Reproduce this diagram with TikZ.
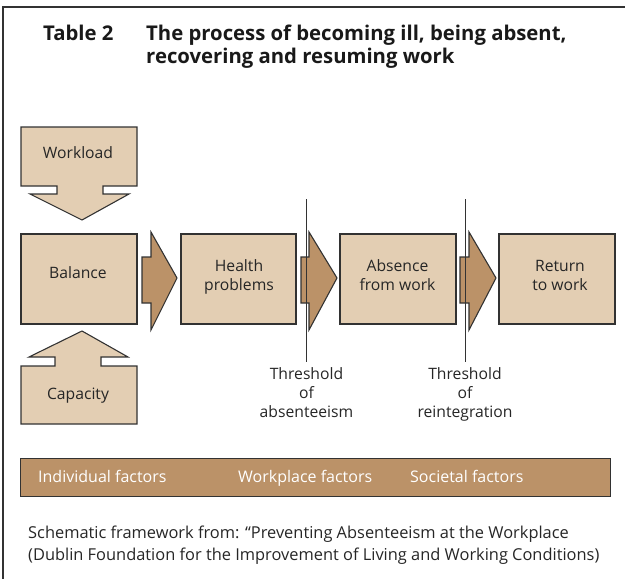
\documentclass[tikz,border=0pt]{standalone}
\usepackage{fontspec}
\setmainfont{Open Sans}
\definecolor{boxfill}{RGB}{227,206,179}
\definecolor{arrowfill}{RGB}{187,146,104}
\definecolor{edge}{RGB}{50,50,50}
\tikzset{
  boxshape/.style={draw=edge, line width=1.1pt, fill=boxfill},
  blockarrow/.style={draw=edge, line width=1.1pt, fill=arrowfill},
  boxtext/.style={font=\fontsize{15.7}{18.5}\selectfont, text=black!85, align=center, anchor=base, inner sep=0pt},
  thrline/.style={draw=black!80, line width=0.9pt},
  factortext/.style={font=\fontsize{16}{18.5}\selectfont, text=white, anchor=base west, inner sep=0pt},
  captext/.style={font=\fontsize{16.4}{22}\selectfont, text=black!85, anchor=base west, inner sep=0pt, align=left},
  titletext/.style={font=\fontsize{20.3}{23}\bfseries\selectfont, text=black!90, anchor=base west, inner sep=0pt, align=left},
}
\begin{document}
\begin{tikzpicture}[x=1pt,y=-1pt]
\useasboundingbox (0,0) rectangle (625,579);
% frame
\draw[draw=edge, line width=1.5pt] (3,579) -- (3,7) -- (625,7);
% title
\node[titletext] (tab) at (43,40) {Table 2};
\node[titletext] (title) at (146,40) {The process of becoming ill, being absent,};
\node[titletext] (title2) at (146,63) {recovering and resuming work};
% workload
\draw[boxshape] (21,127) -- (137,127) -- (137,186) -- (103,186) -- (103,194) -- (129,194) -- (82,220) -- (30,194) -- (57,194) -- (57,186) -- (21,186) -- cycle;
\node[boxtext] (work) at (78,158) {Workload};
% capacity
\draw[boxshape] (21,424) -- (137,424) -- (137,366) -- (101,366) -- (101,357) -- (128,357) -- (82,331) -- (29,357) -- (55,357) -- (55,366) -- (21,366) -- cycle;
\node[boxtext] (cap) at (78,399) {Capacity};
% main boxes
\node[boxshape, minimum width=116pt, minimum height=90pt, inner sep=0pt] (bal) at (79,279) {};
\node[boxshape, minimum width=115pt, minimum height=90pt, inner sep=0pt] (hea) at (238.5,279) {};
\node[boxshape, minimum width=116pt, minimum height=90pt, inner sep=0pt] (abs) at (398,279) {};
\node[boxshape, minimum width=116pt, minimum height=90pt, inner sep=0pt] (ret) at (557,279) {};
\node[boxtext] (baltxt) at (78,278) {Balance};
\node[boxtext] (heatxt) at (239,290) {Health\\problems};
\node[boxtext] (abstxt) at (397.5,290) {Absence\\from work};
\node[boxtext] (rettxt) at (560,290) {Return\\to work};
% block arrows
\draw[blockarrow] (142,257) -- (151,257) -- (151,232) -- (177,278) -- (151,330) -- (151,303) -- (142,303) -- cycle;
\draw[blockarrow] (301,257) -- (309,257) -- (309,232) -- (337,278) -- (309,330) -- (309,303) -- (301,303) -- cycle;
\draw[blockarrow] (460,257) -- (469,257) -- (469,232) -- (496,278) -- (469,330) -- (469,303) -- (460,303) -- cycle;
% thresholds
\coordinate (t1a) at (306,199);
\coordinate (t1b) at (306,362);
\coordinate (t2a) at (465,199);
\coordinate (t2b) at (465,362);
\draw[thrline] (t1a) -- (t1b);
\draw[thrline] (t2a) -- (t2b);
\node[boxtext] (thr1) at (306.5,417) {Threshold\\[0.5pt]of\\[0.5pt]absenteeism};
\node[boxtext] (thr2) at (465,417) {Threshold\\[0.5pt]of\\[0.5pt]reintegration};
% factors bar
\node[draw=edge, line width=1.1pt, fill=arrowfill, minimum width=590pt, minimum height=38pt, inner sep=0pt, anchor=north west] (bar) at (20,458) {};
\node[factortext] (ind) at (38,482) {Individual factors};
\node[factortext] (wpl) at (238,482) {Workplace factors};
\node[factortext] (soc) at (410,482) {Societal factors};
% caption
\node[captext] (cap1) at (28,538) {Schematic framework from: “Preventing Absenteeism at the Workplace};
\node[captext] (cap2) at (28,560) {(Dublin Foundation for the Improvement of Living and Working Conditions)};
\end{tikzpicture}
\end{document}
